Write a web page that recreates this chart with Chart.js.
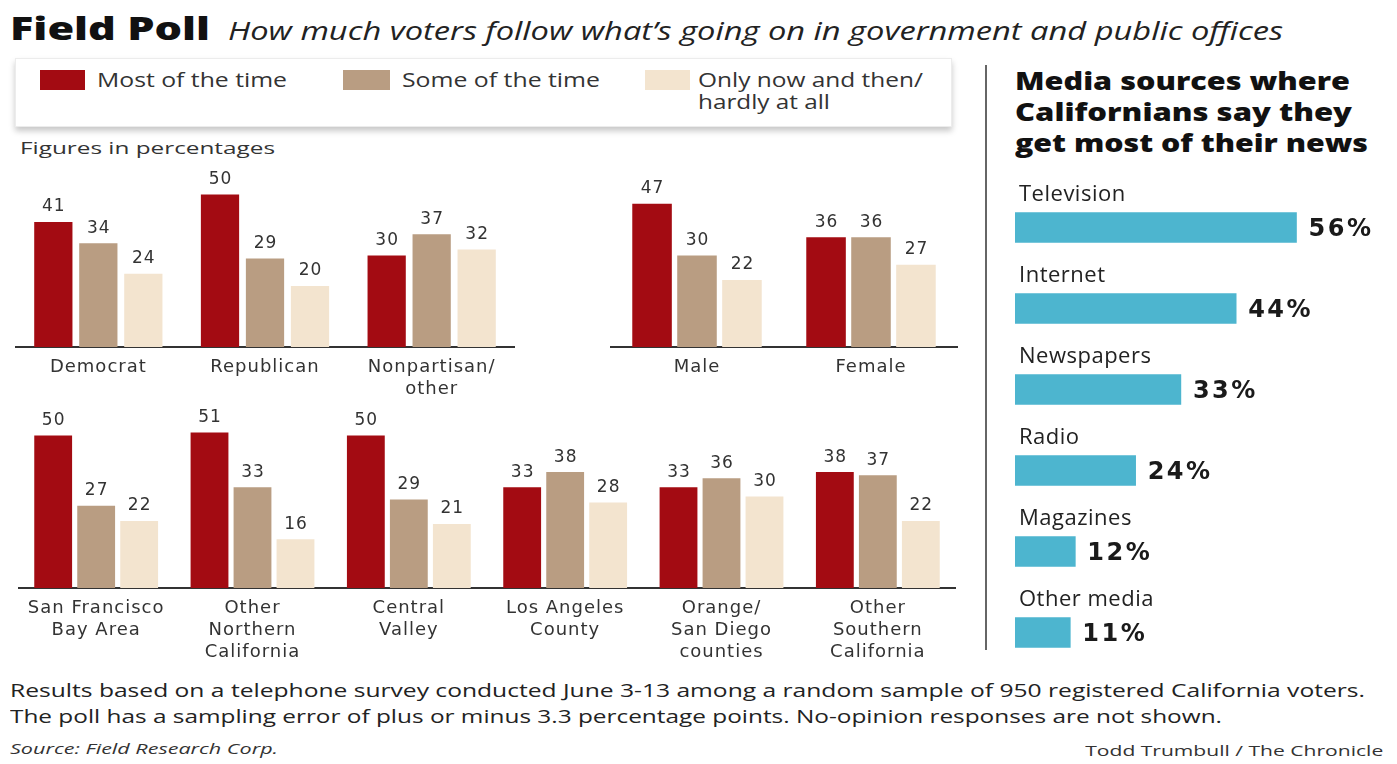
<!DOCTYPE html>
<html><head><meta charset="utf-8">
<script src="https://cdn.jsdelivr.net/npm/chart.js@4.4.1/dist/chart.umd.min.js"></script>
<style>
html,body{margin:0;padding:0;background:#fff;}
body{width:1397px;height:764px;position:relative;overflow:hidden;font-family:"Open Sans",sans-serif;color:#222;}
.t{position:absolute;white-space:nowrap;display:inline-block;}
.fit{transform-origin:left center;}
.fitr{transform-origin:right center;}
.cv{position:absolute;}
.sw{position:absolute;height:20px;}
</style></head><body>

<div class="t fit" data-fit="200" style="left:10px;top:8px;font-size:32px;line-height:40px;font-weight:800;color:#111;">Field Poll</div>
<div class="t fit" data-fit="1055" style="left:228px;top:14px;font-size:25px;line-height:32px;font-style:italic;color:#222;">How much voters follow what’s going on in government and public offices</div>

<div style="position:absolute;left:15px;top:58px;width:935px;height:67px;background:#fff;border:1px solid #ececec;box-shadow:0 4px 6px rgba(0,0,0,0.22);"></div>
<div id="legend"></div>

<div class="t fit" data-fit="255" style="left:20px;top:137px;font-size:17px;line-height:22px;color:#333;">Figures in percentages</div>

<div class="cv" style="left:15px;top:164px;width:500px;height:239px;"><canvas id="party"></canvas></div>
<div class="cv" style="left:610px;top:164px;width:348px;height:239px;"><canvas id="gender"></canvas></div>
<div class="cv" style="left:18px;top:405px;width:938px;height:258px;"><canvas id="region"></canvas></div>

<div style="position:absolute;left:985px;top:65px;width:2px;height:585px;background:#666;"></div>
<div class="t fit" data-fit="335" style="left:1015px;top:64px;font-size:25px;line-height:32px;font-weight:800;color:#111;">Media sources where</div>
<div class="t fit" data-fit="337" style="left:1015px;top:95px;font-size:25px;line-height:32px;font-weight:800;color:#111;">Californians say they</div>
<div class="t fit" data-fit="353" style="left:1015px;top:126px;font-size:25px;line-height:32px;font-weight:800;color:#111;">get most of their news</div>
<div class="cv" style="left:1015px;top:171px;width:377px;height:502px;"><canvas id="media"></canvas></div>

<div class="t fit" data-fit="1355" style="left:10px;top:678px;font-size:19px;line-height:24px;color:#222;">Results based on a telephone survey conducted June 3-13 among a random sample of 950 registered California voters.</div>
<div class="t fit" data-fit="1212" style="left:10px;top:704px;font-size:19px;line-height:24px;color:#222;">The poll has a sampling error of plus or minus 3.3 percentage points. No-opinion responses are not shown.</div>
<div class="t fit" data-fit="268" style="left:10px;top:738px;font-size:15px;line-height:20px;font-style:italic;color:#333;">Source: Field Research Corp.</div>
<div class="t fitr" data-fit="298" style="right:14px;top:740px;font-size:15px;line-height:20px;color:#333;">Todd Trumbull / The Chronicle</div>

<script>
// ---------- DATA ----------
const seriesNames = ["Most of the time", "Some of the time", "Only now and then/\nhardly at all"];
const partyLabels = [["Democrat"], ["Republican"], ["Nonpartisan/", "other"]];
const partyMost = [41, 50, 30];
const partySome = [34, 29, 37];
const partyRarely = [24, 20, 32];

const genderLabels = [["Male"], ["Female"]];
const genderMost = [47, 36];
const genderSome = [30, 36];
const genderRarely = [22, 27];

const regionLabels = [["San Francisco", "Bay Area"], ["Other", "Northern", "California"], ["Central", "Valley"], ["Los Angeles", "County"], ["Orange/", "San Diego", "counties"], ["Other", "Southern", "California"]];
const regionMost = [50, 51, 50, 33, 33, 38];
const regionSome = [27, 33, 29, 38, 36, 37];
const regionRarely = [22, 16, 21, 28, 30, 22];

const mediaLabels = ["Television", "Internet", "Newspapers", "Radio", "Magazines", "Other media"];
const mediaValues = [56, 44, 33, 24, 12, 11];

const seriesColors = ["#a30b12", "#b99d82", "#f3e4cf"];
const mediaColor = "#4db5cf";

// ---------- Legend (HTML) ----------
const legendPos = [[40, 97, 45], [343, 402, 47], [645, 698, 45]];
const legendFit = [[190], [198], [225, 132]];
const lg = document.getElementById('legend');
seriesNames.forEach((n, i) => {
  const [sx, tx, sw] = legendPos[i];
  const s = document.createElement('div');
  s.className = 'sw'; s.style.left = sx + 'px'; s.style.top = '70px'; s.style.width = sw + 'px';
  s.style.background = seriesColors[i];
  lg.appendChild(s);
  n.split('\n').forEach((line, j) => {
    const t = document.createElement('div');
    t.className = 't fit';
    t.dataset.fit = legendFit[i][j];
    t.style.cssText += `left:${tx}px;top:${67 + j * 22}px;font-size:20px;line-height:26px;color:#333;`;
    t.textContent = line;
    lg.appendChild(t);
  });
});

// ---------- text fitting (horizontal scale) ----------
document.querySelectorAll('[data-fit]').forEach(el => {
  const w = el.getBoundingClientRect().width;
  const target = +el.dataset.fit;
  if (w > 0) el.style.transform = `scaleX(${target / w})`;
});

// ---------- plugins ----------
const spacing = {
  id: 'spacing',
  beforeDraw(chart) { chart.ctx.letterSpacing = '1px'; },
  afterDraw(chart) { chart.ctx.letterSpacing = '0px'; }
};

const colValues = {
  id: 'colValues',
  afterDatasetsDraw(chart) {
    const ctx = chart.ctx;
    ctx.save();
    ctx.letterSpacing = '1px';
    ctx.font = '17px "DejaVu Sans", sans-serif';
    ctx.fillStyle = '#333';
    ctx.textAlign = 'center';
    ctx.textBaseline = 'middle';
    chart.data.datasets.forEach((ds, di) => {
      chart.getDatasetMeta(di).data.forEach((bar, i) => {
        ctx.fillText(String(ds.data[i]), bar.x + 0.5, bar.y - 15);
      });
    });
    ctx.restore();
  }
};

const mediaText = {
  id: 'mediaText',
  afterDatasetsDraw(chart) {
    const ctx = chart.ctx;
    const meta = chart.getDatasetMeta(0);
    ctx.save();
    ctx.textBaseline = 'middle';
    ctx.textAlign = 'left';
    meta.data.forEach((bar, i) => {
      ctx.fillStyle = '#222';
      ctx.letterSpacing = '0.5px';
      ctx.font = '22px "Open Sans", sans-serif';
      ctx.fillText(chart.data.labels[i], chart.chartArea.left + 4, bar.y - 33);
      ctx.letterSpacing = '2.5px';
      ctx.font = 'bold 24px "DejaVu Sans", sans-serif';
      ctx.fillStyle = '#1a1a1a';
      ctx.fillText(chart.data.datasets[0].data[i] + '%', bar.x + 12, bar.y + 2);
    });
    ctx.restore();
  }
};

// ---------- column charts ----------
function columnChart(id, labels, most, some, rarely, catPct, barPct, axisH) {
  const sets = [most, some, rarely].map((d, i) => ({
    label: seriesNames[i], data: d, backgroundColor: seriesColors[i],
    categoryPercentage: catPct, barPercentage: barPct
  }));
  new Chart(document.getElementById(id), {
    type: 'bar',
    data: { labels, datasets: sets },
    options: {
      responsive: true, maintainAspectRatio: false, animation: false,
      layout: { padding: 0 },
      plugins: { legend: { display: false }, tooltip: { enabled: false } },
      scales: {
        x: {
          grid: { display: false, drawTicks: false },
          border: { display: true, color: '#333', width: 2 },
          ticks: { color: '#333', font: { size: 18, family: '"DejaVu Sans", sans-serif', lineHeight: 1.22 }, padding: 9, maxRotation: 0, autoSkip: false },
          afterFit(scale) { scale.height = axisH; }
        },
        y: { display: false, min: 0, max: 60 }
      }
    },
    plugins: [spacing, colValues]
  });
}
columnChart('party', partyLabels, partyMost, partySome, partyRarely, 0.81, 0.85, 56);
columnChart('gender', genderLabels, genderMost, genderSome, genderRarely, 0.775, 0.88, 56);
columnChart('region', regionLabels, regionMost, regionSome, regionRarely, 0.825, 0.88, 75);

// ---------- media chart ----------
new Chart(document.getElementById('media'), {
  type: 'bar',
  data: { labels: mediaLabels, datasets: [{ data: mediaValues, backgroundColor: mediaColor, barThickness: 30 }] },
  options: {
    indexAxis: 'y', responsive: true, maintainAspectRatio: false, animation: false,
    layout: { padding: { top: 16, bottom: 0 } },
    plugins: { legend: { display: false }, tooltip: { enabled: false } },
    scales: {
      x: { display: false, min: 0, max: 75 },
      y: { display: false }
    }
  },
  plugins: [mediaText]
});
</script>
</body></html>
